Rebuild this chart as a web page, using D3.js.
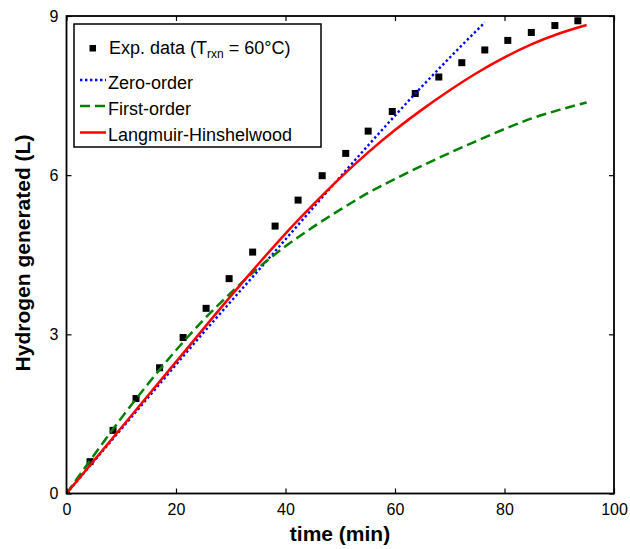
<!DOCTYPE html>
<html>
<head>
<meta charset="utf-8">
<script src="https://cdn.jsdelivr.net/npm/d3@7"></script>
<style>
  html, body { margin: 0; padding: 0; background: #fff; }
  svg { display: block; font-family: "Liberation Sans", Arial, Helvetica, sans-serif; }
</style>
</head>
<body>
<svg id="chart" width="630" height="549"></svg>
<script>
// ---- data ----
const expTime = [0, 4.3, 8.5, 12.7, 17.0, 21.3, 25.5, 29.7, 34.0, 38.1, 42.3, 46.7, 51.0, 55.1, 59.5, 63.7, 68.0, 72.2, 76.4, 80.6, 84.9, 89.2, 93.4];
const expH2 = [0, 0.6, 1.19, 1.79, 2.37, 2.94, 3.49, 4.05, 4.55, 5.04, 5.53, 5.99, 6.41, 6.83, 7.2, 7.54, 7.85, 8.12, 8.36, 8.54, 8.69, 8.82, 8.91];

const zeroTime = [0, 15, 25, 35, 45, 55, 65, 76.4];
const zeroH2 = [0, 1.82, 3.03, 4.2, 5.38, 6.55, 7.68, 8.88];

const firstTime = [0, 5, 10, 15, 20, 25, 30, 35, 40, 45, 50, 55, 60, 65, 70, 75, 80, 85, 90, 95];
const firstH2 = [0, 0.72, 1.42, 2.08, 2.7, 3.27, 3.78, 4.25, 4.66, 5.02, 5.35, 5.66, 5.93, 6.18, 6.42, 6.65, 6.87, 7.07, 7.23, 7.37];

const lhTime = [0, 10, 20, 30, 35, 40, 45, 50, 55, 60, 65, 70, 75, 80, 85, 90, 95];
const lhH2 = [0, 1.24, 2.48, 3.72, 4.32, 4.9, 5.44, 5.95, 6.42, 6.85, 7.24, 7.6, 7.93, 8.22, 8.47, 8.67, 8.83];

const xTicks = [0, 20, 40, 60, 80, 100];
const yTicks = [0, 3, 6, 9];

const legendLabels = ["Zero-order", "First-order", "Langmuir-Hinshelwood"];

// ---- layout ----
const svg = d3.select("#chart");
const L = 66.5, R = 614, T = 16, B = 493.5;
const x = d3.scaleLinear().domain([0, 100]).range([L, R]);
const y = d3.scaleLinear().domain([0, 9]).range([B, T]);

svg.append("defs").append("clipPath").attr("id", "clip")
  .append("rect").attr("x", L).attr("y", T).attr("width", R - L).attr("height", B - T);

const zip = (a, b) => a.map((v, i) => [v, b[i]]);
const line = d3.line().x(d => x(d[0])).y(d => y(d[1])).curve(d3.curveMonotoneX);

const plot = svg.append("g").attr("clip-path", "url(#clip)");

// experimental squares
plot.selectAll("rect.pt").data(zip(expTime, expH2)).enter().append("rect")
  .attr("class", "pt")
  .attr("x", d => x(d[0]) - 3.5).attr("y", d => y(d[1]) - 3.5)
  .attr("width", 7).attr("height", 7).attr("fill", "#000");

// model curves
plot.append("path").datum(zip(zeroTime, zeroH2)).attr("d", line)
  .attr("fill", "none").attr("stroke", "#0000ff").attr("stroke-width", 2.4)
  .attr("stroke-dasharray", "2.4,2.6");
plot.append("path").datum(zip(firstTime, firstH2)).attr("d", line)
  .attr("fill", "none").attr("stroke", "#008000").attr("stroke-width", 2.5)
  .attr("stroke-dasharray", "10,5");
plot.append("path").datum(zip(lhTime, lhH2)).attr("d", line)
  .attr("fill", "none").attr("stroke", "#ff0000").attr("stroke-width", 2.5);

// axes (inward ticks on all four sides)
const tickLen = 5;
const axB = svg.append("g").attr("transform", `translate(0,${B})`)
  .call(d3.axisBottom(x).tickValues(xTicks).tickSizeInner(-tickLen).tickSizeOuter(0).tickPadding(10));
const axT = svg.append("g").attr("transform", `translate(0,${T})`)
  .call(d3.axisTop(x).tickValues(xTicks).tickSizeInner(-tickLen).tickSizeOuter(0).tickFormat(""));
const axL = svg.append("g").attr("transform", `translate(${L},0)`)
  .call(d3.axisLeft(y).tickValues(yTicks).tickSizeInner(-tickLen).tickSizeOuter(0).tickPadding(8));
const axR = svg.append("g").attr("transform", `translate(${R},0)`)
  .call(d3.axisRight(y).tickValues(yTicks).tickSizeInner(-tickLen).tickSizeOuter(0).tickFormat(""));
[axB, axT, axL, axR].forEach(g => {
  g.select(".domain").remove();
  g.selectAll(".tick line").attr("stroke", "#000").attr("stroke-width", 1.2);
  g.selectAll("text").attr("font-size", 16).attr("fill", "#000")
    .attr("font-family", "'Liberation Sans', Arial, sans-serif");
});
// frame
svg.append("rect").attr("x", L).attr("y", T).attr("width", R - L).attr("height", B - T)
  .attr("fill", "none").attr("stroke", "#000").attr("stroke-width", 1.8);

// axis titles
svg.append("text").attr("x", 340).attr("y", 541)
  .attr("text-anchor", "middle").attr("font-size", 21).attr("font-weight", "bold")
  .text("time (min)");
svg.append("text").attr("transform", `translate(30,253) rotate(-90)`)
  .attr("text-anchor", "middle").attr("font-size", 21).attr("font-weight", "bold")
  .text("Hydrogen generated (L)");

// legend
const lg = svg.append("g");
lg.append("rect").attr("x", 74).attr("y", 24).attr("width", 247).attr("height", 123)
  .attr("fill", "#fff").attr("stroke", "#000").attr("stroke-width", 1.5);
lg.append("rect").attr("x", 89.5).attr("y", 45).attr("width", 6.5).attr("height", 6.5).attr("fill", "#000");
const t0 = lg.append("text").attr("x", 109).attr("y", 54).attr("font-size", 18);
t0.append("tspan").text("Exp. data (T");
t0.append("tspan").attr("font-size", 12).attr("dy", 4).text("rxn");
t0.append("tspan").attr("dy", -4).text(" = 60°C)");

const legStyles = [
  { c: "#0000ff", d: "2.4,2.6", w: 2.4, yy: 80 },
  { c: "#008000", d: "10,5", w: 2.5, yy: 106 },
  { c: "#ff0000", d: null, w: 2.5, yy: 132.5 }
];
legendLabels.forEach((lab, i) => {
  const s = legStyles[i];
  const ln = lg.append("line").attr("x1", 80).attr("x2", 106).attr("y1", s.yy).attr("y2", s.yy)
    .attr("stroke", s.c).attr("stroke-width", s.w);
  if (s.d) ln.attr("stroke-dasharray", s.d);
  lg.append("text").attr("x", 108).attr("y", s.yy + 8.5).attr("font-size", 18).text(lab);
});
</script>
</body>
</html>
